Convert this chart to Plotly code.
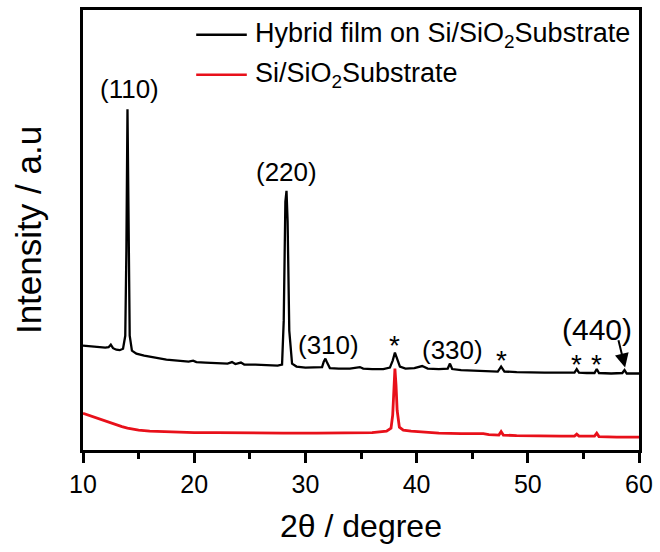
import plotly.graph_objects as go

# ---------------- data ----------------
two_theta_film = [10.0, 10.5, 11.0, 11.5, 12.0, 12.3, 12.5, 12.7, 13.0, 13.3, 13.6, 13.8, 13.9, 14.0, 14.1, 14.2,
                  14.4, 14.8, 15.5, 16.5, 17.5, 18.5, 19.5, 19.9, 20.2, 21.0, 22.0, 23.0, 23.4, 23.7, 24.2, 24.5,
                  25.5, 26.5, 27.5, 27.9, 28.05, 28.2, 28.3, 28.4, 28.55, 28.8, 29.2, 30.0, 31.0, 31.5, 31.65, 31.8,
                  31.95, 32.2, 33.0, 34.0, 34.9, 35.2, 36.0, 37.0, 37.6, 37.85, 38.05, 38.25, 38.5, 39.0, 39.8, 40.5,
                  41.0, 42.0, 42.8, 43.0, 43.2, 44.0, 45.0, 46.0, 47.3, 47.6, 47.9, 49.0, 50.0, 51.5, 53.0, 54.2,
                  54.4, 54.6, 55.3, 56.0, 56.2, 56.4, 57.5, 58.5, 58.7, 58.9, 60.0]
intensity_film = [105, 104.5, 104, 103.5, 103, 103.5, 106, 102.5, 101, 100.5, 102, 115, 200, 343, 200, 115,
                  100, 97, 95, 93, 91, 90, 89, 90, 88.5, 88, 87.5, 87, 88.5, 86.5, 88, 86,
                  86, 85.5, 85, 86, 130, 250, 261, 230, 120, 87, 84, 83, 83, 83.5, 89, 92,
                  88, 82.5, 82, 82, 83.5, 82, 81.5, 81.5, 83, 90, 98, 92, 84, 82, 82.5, 84.5,
                  82, 81.5, 82, 87, 81.5, 80.5, 80, 79.5, 79, 84, 79, 78.5, 78, 78, 78, 78,
                  81.5, 78, 77.5, 77.5, 81.5, 77.5, 77, 77.5, 80.5, 77, 77]

two_theta_sub = [10.0, 10.5, 11.0, 11.5, 12.0, 12.5, 13.0, 13.5, 14.0, 14.5, 15.0, 16.0, 17.0, 18.0, 20.0, 22.0,
                 25.0, 28.0, 31.0, 34.0, 36.0, 37.3, 37.7, 37.85, 37.95, 38.05, 38.15, 38.25, 38.45, 38.8, 39.5,
                 40.5, 42.0, 44.0, 45.5, 46.0, 46.5, 47.4, 47.6, 47.8, 49.0, 51.0, 53.0, 54.2, 54.4, 54.6, 55.3,
                 55.6, 56.0, 56.2, 56.4, 58.0, 60.0]
intensity_sub = [37, 35, 33, 31, 29, 27, 25, 23.5, 22, 21, 20, 19, 18.5, 18, 17.5, 17.5,
                 17, 17, 17, 17, 17.5, 19, 22, 35, 60, 82, 65, 40, 23, 20, 19,
                 18, 17, 16.5, 16, 16.5, 15.5, 15, 18.5, 15, 14.5, 14, 14, 14, 16, 14, 14,
                 14.5, 14, 17, 13.5, 13, 13]

series_names = ["Hybrid film on Si/SiO<sub>2</sub>Substrate", "Si/SiO<sub>2</sub>Substrate"]
series_colors = ["#000000", "#e8101a"]

x_ticks = [10, 20, 30, 40, 50, 60]

# peak labels: (text, 2theta, intensity of label centre)
peak_labels = ["(110)", "(220)", "(310)", "(330)"]
peak_label_x = [14.2, 28.3, 32.1, 43.2]
peak_label_y = [363, 280, 106, 101]
star_x = [38.05, 47.6, 54.4, 56.2]
star_y = [105, 90, 86, 86]

FONT = "Arial, Liberation Sans, sans-serif"

fig = go.Figure()
fig.add_trace(go.Scatter(x=two_theta_film, y=intensity_film, mode="lines",
                         line=dict(color=series_colors[0], width=2.3), name=series_names[0],
                         showlegend=False))
fig.add_trace(go.Scatter(x=two_theta_sub, y=intensity_sub, mode="lines",
                         line=dict(color=series_colors[1], width=2.8), name=series_names[1],
                         showlegend=False))

annotations = []
for t, x, y in zip(peak_labels, peak_label_x, peak_label_y):
    annotations.append(dict(x=x, y=y, text=t, showarrow=False, xanchor="center", yanchor="middle",
                            font=dict(family=FONT, size=26, color="black")))
for x, y in zip(star_x, star_y):
    annotations.append(dict(x=x, y=y, text="*", showarrow=False, xanchor="center", yanchor="middle",
                            font=dict(family=FONT, size=28, color="black")))
# (440) with arrow
annotations.append(dict(x=56.2, y=121, text="(440)", showarrow=False, xanchor="center", yanchor="middle",
                        font=dict(family=FONT, size=30, color="black")))
annotations.append(dict(x=58.75, y=83, ax=58.12, ay=112, axref="x", ayref="y", text="",
                        showarrow=True, arrowhead=2, arrowsize=1.4, arrowwidth=2, arrowcolor="black"))

# manual legend
legend_rows_y = [0.9436, 0.853]
shapes = []
for name, col, ly in zip(series_names, series_colors, legend_rows_y):
    shapes.append(dict(type="line", xref="paper", yref="paper", x0=0.2036, x1=0.2946, y0=ly, y1=ly,
                       line=dict(color=col, width=2.5)))
    annotations.append(dict(xref="paper", yref="paper", x=0.3054, y=ly, text=name, showarrow=False,
                            xanchor="left", yanchor="middle",
                            font=dict(family=FONT, size=27, color="black")))

fig.update_layout(
    width=660, height=552,
    margin=dict(l=83, r=17, t=7, b=102),
    paper_bgcolor="white", plot_bgcolor="white",
    font=dict(family=FONT, color="black"),
    annotations=annotations, shapes=shapes,
    showlegend=False,
)
fig.update_xaxes(range=[10, 60], tickvals=x_ticks, ticktext=[str(v) for v in x_ticks],
                 showgrid=False, zeroline=False,
                 showline=True, linecolor="black", linewidth=3, mirror=True,
                 ticks="outside", ticklen=10, tickwidth=3, tickcolor="black",
                 minor=dict(ticks="outside", ticklen=6, tickwidth=3, tickcolor="black", dtick=5, showgrid=False),
                 tickfont=dict(family=FONT, size=25, color="black"),
                 title=dict(text="2θ / degree", font=dict(family=FONT, size=32, color="black"), standoff=18))
fig.update_yaxes(range=[0, 443], showgrid=False, zeroline=False, showticklabels=False, ticks="",
                 showline=True, linecolor="black", linewidth=3, mirror=True,
                 title=dict(text="Intensity / a.u", font=dict(family=FONT, size=35, color="black"), standoff=28))

fig.write_html("out.html")
